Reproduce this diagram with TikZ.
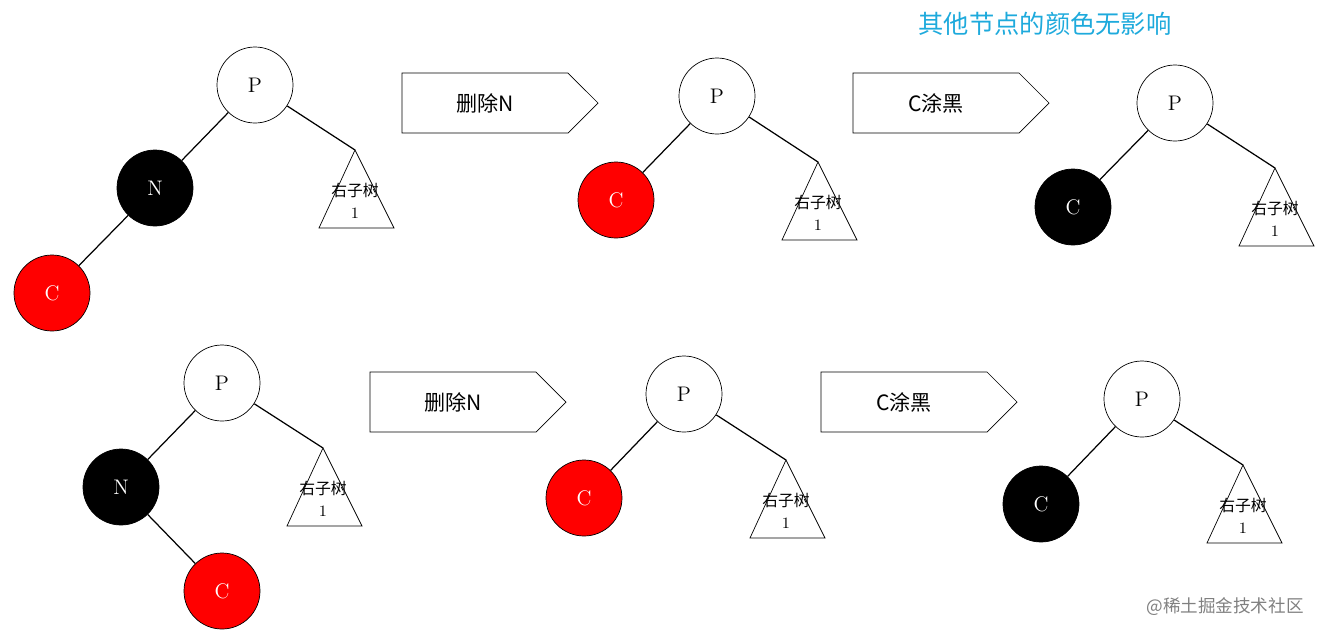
\documentclass[tikz,border=0pt]{standalone}
\usepackage{fontspec}
\newfontfamily\cjk{Noto Sans CJK SC}
\usetikzlibrary{shapes.arrows}
\definecolor{cyantext}{RGB}{30,170,220}
\tikzset{
  nd/.style={circle,draw,minimum size=76\pxu,inner sep=0pt,font=\large},
  wn/.style={nd,fill=white},
  bn/.style={nd,fill=black,text=white},
  rn/.style={nd,fill=red,text=white},
  edge/.style={draw,line width=0.7pt},
  barrow/.style={single arrow,draw,fill=white,minimum height=196\pxu,minimum width=60\pxu,single arrow head extend=0pt,inner sep=0pt,font=\cjk\large}
}
\newlength\pxu \setlength\pxu{0.02cm}
\newcommand{\subtree}[3]{% apex x, apex y, name
  \coordinate (#3) at (#1,#2);
  \draw (#1,#2) -- ++(-36,78) -- ++(75,0) -- cycle;
  \node[font=\cjk\small] at (#1,#2+40) {右子树};
  \node[font=\small] at (#1,#2+63) {1};
}
\begin{document}
\begin{tikzpicture}[x=0.02cm,y=-0.02cm]
\useasboundingbox (0,0) rectangle (1323,637);
\node[font=\cjk\Large,text=cyantext] at (1045,24) {其他节点的颜色无影响};
% top-left
\node[wn] (p1) at (255,85) {P};
\node[bn] (n1) at (155,188) {N};
\node[rn] (c1) at (52,293) {C};
\subtree{355}{150}{t1}
\draw[edge] (p1) -- (n1); \draw[edge] (n1) -- (c1); \draw[edge] (p1) -- (t1);
\node[barrow] (a1) at (485,103) {删除N};
% top-middle
\node[wn] (p2) at (717,96) {P};
\node[rn] (c2) at (616,200) {C};
\subtree{818}{162}{t2}
\draw[edge] (p2) -- (c2); \draw[edge] (p2) -- (t2);
\node[barrow] (a2) at (936,103) {C涂黑};
% top-right
\node[wn] (p3) at (1175,103) {P};
\node[bn] (c3) at (1073,207) {C};
\subtree{1275}{168}{t3}
\draw[edge] (p3) -- (c3); \draw[edge] (p3) -- (t3);
% bottom-left
\node[wn] (p4) at (222,383) {P};
\node[bn] (n4) at (121,487) {N};
\node[rn] (c4) at (222,591) {C};
\subtree{323}{448}{t4}
\draw[edge] (p4) -- (n4); \draw[edge] (n4) -- (c4); \draw[edge] (p4) -- (t4);
\node[barrow] (a3) at (453,402) {删除N};
% bottom-middle
\node[wn] (p5) at (684,394) {P};
\node[rn] (c5) at (584,498) {C};
\subtree{786}{460}{t5}
\draw[edge] (p5) -- (c5); \draw[edge] (p5) -- (t5);
\node[barrow] (a4) at (904,402) {C涂黑};
% bottom-right
\node[wn] (p6) at (1142,399) {P};
\node[bn] (c6) at (1041,504) {C};
\subtree{1243}{465}{t6}
\draw[edge] (p6) -- (c6); \draw[edge] (p6) -- (t6);
\node[font=\cjk,text=gray] at (1225,607) {@稀土掘金技术社区};
\end{tikzpicture}
\end{document}
